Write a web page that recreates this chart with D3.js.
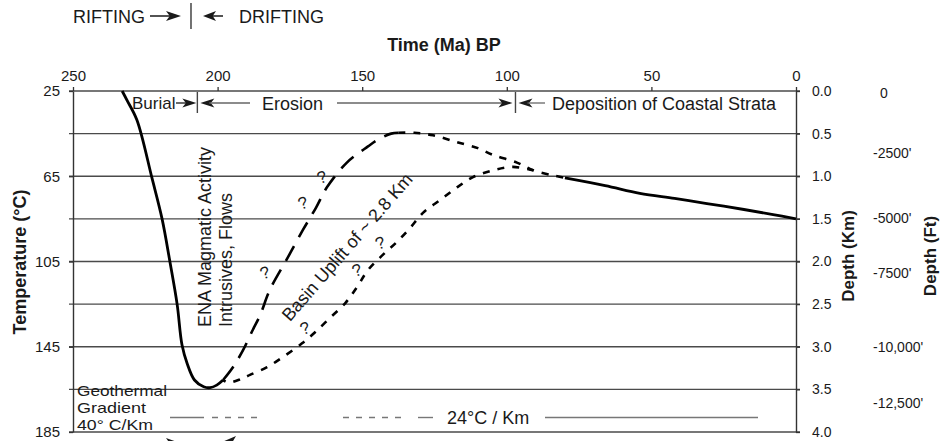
<!DOCTYPE html>
<html><head><meta charset="utf-8">
<script src="https://cdn.jsdelivr.net/npm/d3@7"></script>
<style>
body{margin:0;background:#fff;}
svg{display:block;font-family:"Liberation Sans",Arial,sans-serif;}
</style></head>
<body><svg id="c" width="940" height="441"></svg>
<script>
// ---- data ----
const timeTicks = [250, 200, 150, 100, 50, 0];
const tempTicks = [25, 65, 105, 145, 185];
const depthTicks = [0, 0.5, 1, 1.5, 2, 2.5, 3, 3.5, 4];
const feetLabels = ["0", "-2500'", "-5000'", "-7500'", "-10,000'", "-12,500'"];
const feetPosKm = [0.02, 0.73, 1.49, 2.14, 3.0, 3.66];
const phaseBounds = [207, 97];          // Burial|Erosion, Erosion|Deposition (Ma)
const riftDriftMa = 209.2;
const gradientLabel = ["Geothermal", "Gradient", "40° C/Km"];
// burial history (Ma, depth km)
const burialPath = [[233,0],[231.3,0.11],[227.9,0.34],[222.7,1.02],[219.2,1.5],[216.5,2.0],[214,2.5],[212.3,2.98],[210.5,3.2],[208,3.39],[204.8,3.47],[202.6,3.48],[200.3,3.45],[198.1,3.39]];
const upperLongDash = [[198.1,3.39],[194.7,3.24],[191.2,3.04],[187.8,2.8],[185.3,2.63],[181.9,2.33],[176,1.97],[170.5,1.63],[166,1.37],[162.2,1.13],[155.3,0.84],[148,0.65],[144.5,0.57],[140,0.5],[137.5,0.49]];
const upperShortDash = [[137.5,0.49],[132,0.49],[125.5,0.52],[117.2,0.60],[110,0.67],[104.8,0.75],[96.5,0.84],[90.9,0.93],[84,0.99],[79.9,1.02]];
const lowerShortDash = [[198.1,3.39],[196.4,3.42],[192,3.38],[188.8,3.33],[182.9,3.24],[177.4,3.12],[170.8,2.96],[166.3,2.83],[161.1,2.66],[155.9,2.49],[151.8,2.30],[148,2.10],[142.8,1.92],[138,1.77],[133.5,1.61],[129,1.43],[123.1,1.28],[117.2,1.13],[111.7,1.01],[104.8,0.93],[97.9,0.89],[90.9,0.93]];
const depositionPath = [[79.9,1.02],[66,1.11],[54,1.20],[42,1.26],[30.8,1.32],[18,1.39],[7.9,1.45],[0,1.5]];
const questionMarks = [[183.6,2.13],[170.5,1.31],[163.9,1.01],[169.8,2.78],[151.8,2.10],[143.8,1.78]];

// ---- scales ----
const svg = d3.select("#c");
const x = d3.scaleLinear().domain([250, 0]).range([73, 796]);
const y = d3.scaleLinear().domain([0, 4]).range([91, 432]);
const yT = d3.scaleLinear().domain([25, 185]).range([91, 432]);
const ink = "#1a1a1a";

// gridlines
svg.append("g").selectAll("line").data(depthTicks).join("line")
  .attr("x1", 69).attr("x2", 800)
  .attr("y1", d => y(d)).attr("y2", d => y(d))
  .attr("stroke", "#4a4a4a").attr("stroke-width", 1.4);

// axes
const axTop = svg.append("g").attr("transform", `translate(0,${y(0)})`)
  .call(d3.axisTop(x).tickValues(timeTicks).tickSize(4).tickPadding(6).tickSizeOuter(0));
const axLeft = svg.append("g").attr("transform", `translate(${x(250)},0)`)
  .call(d3.axisLeft(yT).tickValues(tempTicks).tickSize(4).tickPadding(9).tickSizeOuter(0));
const axRight = svg.append("g").attr("transform", `translate(${x(0)},0)`)
  .call(d3.axisRight(y).tickValues(depthTicks).tickFormat(d3.format(".1f")).tickSize(4).tickPadding(12).tickSizeOuter(0));
[axTop, axLeft, axRight].forEach(a => {
  a.select(".domain").attr("stroke", "#333").attr("stroke-width", 1.4);
  a.selectAll(".tick line").attr("stroke", "#333").attr("stroke-width", 1.3);
  a.selectAll("text").attr("fill", ink).attr("font-family", "Liberation Sans, Arial, sans-serif");
});
axTop.selectAll("text").attr("font-size", 15);
axLeft.selectAll("text").attr("font-size", 15);
axRight.selectAll("text").attr("font-size", 14);
axTop.select(".domain").remove();

// feet labels
svg.append("g").selectAll("text").data(feetLabels).join("text")
  .attr("x", (d, i) => i === 0 ? 880 : 873)
  .attr("y", (d, i) => y(feetPosKm[i]))
  .attr("dy", "0.35em").attr("font-size", 14).attr("fill", ink).text(d => d);

// axis titles
svg.append("text").attr("x", 444).attr("y", 51).attr("text-anchor", "middle")
  .attr("font-size", 18).attr("font-weight", "bold").attr("fill", ink).text("Time (Ma) BP");
svg.append("text").attr("transform", "translate(20,262) rotate(-90)").attr("text-anchor", "middle")
  .attr("dy", "0.35em").attr("font-size", 18).attr("font-weight", "bold").attr("fill", ink).text("Temperature (°C)");
svg.append("text").attr("transform", "translate(848,256) rotate(-90)").attr("text-anchor", "middle")
  .attr("dy", "0.35em").attr("font-size", 17).attr("font-weight", "bold").attr("fill", ink).text("Depth (Km)");
svg.append("text").attr("transform", "translate(936,256) rotate(-90)").attr("text-anchor", "middle")
  .attr("font-size", 17).attr("font-weight", "bold").attr("fill", ink).text("Depth (Ft)");

// arrow helper
function arrowHead(g, tipX, tipY, dir, len, half) {
  g.append("path").attr("d", `M${tipX},${tipY}L${tipX - dir*len},${tipY - half}L${tipX - dir*len*0.75},${tipY}L${tipX - dir*len},${tipY + half}Z`)
    .attr("fill", ink);
}

// RIFTING | DRIFTING
const hdr = svg.append("g");
hdr.append("text").attr("x", 73).attr("y", 23).attr("font-size", 18).attr("fill", ink).text("RIFTING");
hdr.append("line").attr("x1", 150).attr("x2", 172).attr("y1", 16).attr("y2", 16).attr("stroke", ink).attr("stroke-width", 1.5);
arrowHead(hdr, 181, 16, 1, 15, 5);
const rdx = x(riftDriftMa);
hdr.append("line").attr("x1", rdx).attr("x2", rdx).attr("y1", 3).attr("y2", 29).attr("stroke", "#444").attr("stroke-width", 1.5);
arrowHead(hdr, 203, 16, -1, 13, 5);
hdr.append("line").attr("x1", 210).attr("x2", 223).attr("y1", 16).attr("y2", 16).attr("stroke", ink).attr("stroke-width", 1.5);
hdr.append("text").attr("x", 239).attr("y", 23).attr("font-size", 18).attr("fill", ink).text("DRIFTING");

// phase annotations
const ph = svg.append("g");
const ay = 103;
const b1 = x(phaseBounds[0]), b2 = x(phaseBounds[1]);
ph.append("text").attr("x", 132).attr("y", 109).attr("font-size", 17).attr("fill", ink).text("Burial");
arrowHead(ph, b1 - 1, ay, 1, 14, 4.5);
ph.append("line").attr("x1", 176).attr("x2", b1 - 8).attr("y1", ay).attr("y2", ay).attr("stroke", ink).attr("stroke-width", 1.3);
ph.append("line").attr("x1", b1).attr("x2", b1).attr("y1", 92).attr("y2", 113).attr("stroke", "#444").attr("stroke-width", 1.4);
arrowHead(ph, b1 + 3, ay, -1, 14, 4.5);
ph.append("line").attr("x1", b1 + 12).attr("x2", 250).attr("y1", ay).attr("y2", ay).attr("stroke", "#666").attr("stroke-width", 1.3);
ph.append("text").attr("x", 262).attr("y", 110).attr("font-size", 18).attr("fill", ink).text("Erosion");
ph.append("line").attr("x1", 337).attr("x2", b2 - 10).attr("y1", ay).attr("y2", ay).attr("stroke", "#666").attr("stroke-width", 1.3);
arrowHead(ph, b2 - 3, ay, 1, 14, 4.5);
ph.append("line").attr("x1", b2).attr("x2", b2).attr("y1", 92).attr("y2", 113).attr("stroke", "#444").attr("stroke-width", 1.4);
arrowHead(ph, b2 + 3, ay, -1, 14, 4.5);
ph.append("line").attr("x1", b2 + 12).attr("x2", 545).attr("y1", ay).attr("y2", ay).attr("stroke", "#666").attr("stroke-width", 1.3);
ph.append("text").attr("x", 552).attr("y", 110).attr("font-size", 18).attr("fill", ink).text("Deposition of Coastal Strata");

// curves
const line = d3.line().x(d => x(d[0])).y(d => y(d[1])).curve(d3.curveCatmullRom.alpha(0.5));
svg.append("path").attr("d", line(burialPath)).attr("fill", "none").attr("stroke", "#000").attr("stroke-width", 2.8);
svg.append("path").attr("d", line(depositionPath)).attr("fill", "none").attr("stroke", "#000").attr("stroke-width", 2.8);
svg.append("path").attr("d", line(upperLongDash)).attr("fill", "none").attr("stroke", "#000").attr("stroke-width", 2.6)
  .attr("stroke-dasharray", "17,10");
svg.append("path").attr("d", line(upperShortDash)).attr("fill", "none").attr("stroke", "#000").attr("stroke-width", 2.6)
  .attr("stroke-dasharray", "7,8");
svg.append("path").attr("d", line(lowerShortDash)).attr("fill", "none").attr("stroke", "#000").attr("stroke-width", 2.6)
  .attr("stroke-dasharray", "7,8").attr("stroke-dashoffset", 4);

// question marks
svg.append("g").selectAll("text").data(questionMarks).join("text")
  .attr("transform", d => `translate(${x(d[0])},${y(d[1])}) rotate(-20)`)
  .attr("text-anchor", "middle").attr("dy", "0.35em").attr("font-size", 17).attr("fill", ink).text("?");

// rotated labels
svg.append("text").attr("transform", "translate(211,327) rotate(-90)").attr("font-size", 18).attr("fill", ink)
  .text("ENA Magmatic Activity");
svg.append("text").attr("transform", "translate(232,327) rotate(-90)").attr("font-size", 18).attr("fill", ink)
  .text("Intrusives, Flows");
svg.append("text").attr("transform", "translate(347,247) rotate(-49)").attr("text-anchor", "middle")
  .attr("dy", "0.35em").attr("font-size", 18).attr("fill", ink).text("Basin Uplift of ~ 2.8 Km");

// geothermal gradient
const gg = svg.append("g");
const gWidths = [90, 69, 76];
gradientLabel.forEach((t, i) => {
  gg.append("text").attr("x", 77).attr("y", 396 + i * 17).attr("font-size", 15)
    .attr("textLength", gWidths[i]).attr("lengthAdjust", "spacingAndGlyphs")
    .attr("fill", ink).text(t);
});
const gy = y(3.83);
const seg = (x1, x2, dash) => gg.append("line").attr("x1", x1).attr("x2", x2).attr("y1", gy).attr("y2", gy)
  .attr("stroke", "#777").attr("stroke-width", 1.4).attr("stroke-dasharray", dash || null);
seg(170, 204);
seg(212, 260, "6,7");
seg(343, 402, "6,7");
seg(418, 433);
gg.append("text").attr("x", 447).attr("y", gy + 6).attr("font-size", 18).attr("fill", ink).text("24°C / Km");
seg(545, 758);

// cropped lower rifting/drifting arrows
const bot = svg.append("g");
bot.append("line").attr("x1", 150).attr("x2", 170).attr("y1", 443).attr("y2", 443).attr("stroke", ink).attr("stroke-width", 1.5);
arrowHead(bot, 180, 443, 1, 14, 5);
arrowHead(bot, 222, 442, -1, 14, 6);
</script></body></html>
